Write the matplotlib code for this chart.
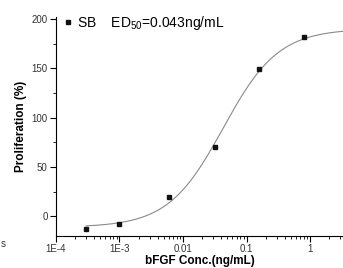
"""Dose-response curve of bFGF proliferation"""

import matplotlib
matplotlib.use("Agg")
import matplotlib.pyplot as plt
import numpy as np
from matplotlib.ticker import FixedLocator, LogLocator, NullFormatter, MultipleLocator

plt.rcParams['font.family'] = ['Liberation Sans', 'DejaVu Sans']
plt.rcParams['mathtext.fontset'] = 'custom'
plt.rcParams['mathtext.rm'] = 'Liberation Sans'

# measured points
conc = [3e-4, 1e-3, 6e-3, 0.032, 0.16, 0.79]
prolif = [-12.9, -7.8, 19.6, 70.3, 149, 182]

# 4PL fit parameters
fit_bottom = -11
fit_top = 190
fit_ec50 = 0.043
fit_hill = 1.0

xtick_vals = [1e-4, 1e-3, 1e-2, 1e-1, 1]
xtick_labels = ['1E-4', '1E-3', '0.01', '0.1', '1']
ytick_vals = [0, 50, 100, 150, 200]

fig = plt.figure(figsize=(3.43, 2.68), dpi=100)
ax = fig.add_axes([0.163, 0.119, 0.837, 0.818])

xs = np.logspace(np.log10(conc[0]), np.log10(3.3), 300)
ys = fit_bottom + (fit_top - fit_bottom) * (xs / fit_ec50) ** fit_hill / (1 + (xs / fit_ec50) ** fit_hill)
ax.plot(xs, ys, color='#8a8a8a', lw=0.8)
ax.plot(conc, prolif, 's', color='#111111', ms=3.2, label='SB    ED$_\\mathregular{50}$=0.043ng/mL')

ax.set_xscale('log')
ax.set_xlim(1e-4, 3.3)
ax.set_ylim(-20, 202)

ax.xaxis.set_major_locator(FixedLocator(xtick_vals))
ax.set_xticklabels(xtick_labels)
ax.xaxis.set_minor_locator(LogLocator(base=10, subs=np.arange(2, 10)))
ax.xaxis.set_minor_formatter(NullFormatter())
ax.set_yticks(ytick_vals)
ax.yaxis.set_minor_locator(MultipleLocator(25))

for side in ['top', 'right']:
    ax.spines[side].set_visible(False)
for side in ['left', 'bottom']:
    ax.spines[side].set_linewidth(0.8)

ax.tick_params(which='major', direction='out', length=4, width=0.8, labelsize=7, labelcolor='#333333', pad=2)
ax.tick_params(which='minor', direction='out', length=2.5, width=0.6)

ax.set_ylabel('Proliferation (%)', fontsize=8.5, fontweight='bold', labelpad=3)
ax.set_xlabel('bFGF Conc.(ng/mL)', fontsize=8.5, fontweight='bold', labelpad=0.5)

ax.legend(loc='upper left', frameon=False, fontsize=10, handlelength=0.5, handletextpad=0.4,
          borderaxespad=0.2, bbox_to_anchor=(0.0, 1.05))

fig.text(0.003, 0.08, 's', fontsize=7, color='#333333')

fig.savefig('out.png', dpi=100)
